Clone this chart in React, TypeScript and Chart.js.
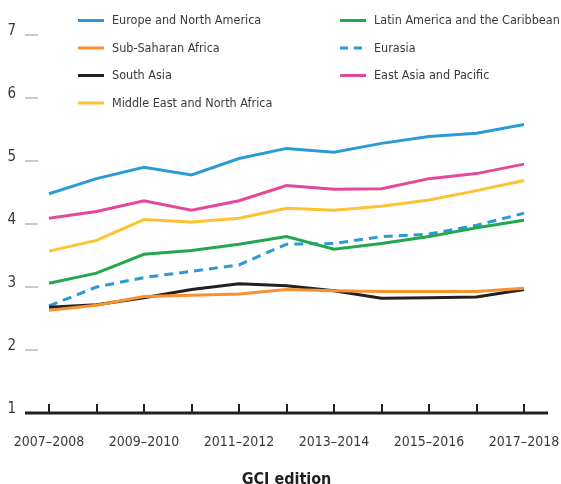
import React, { useEffect, useRef } from "react";
import { Chart, registerables } from "chart.js";

Chart.register(...registerables);

const editions = [
  "2007–2008", "2008–2009", "2009–2010", "2010–2011", "2011–2012", "2012–2013",
  "2013–2014", "2014–2015", "2015–2016", "2016–2017", "2017–2018",
];
const europeNorthAmerica = [4.48, 4.72, 4.9, 4.78, 5.04, 5.2, 5.14, 5.28, 5.39, 5.44, 5.58];
const subSaharanAfrica = [2.63, 2.71, 2.85, 2.87, 2.89, 2.96, 2.94, 2.93, 2.93, 2.93, 2.98];
const southAsia = [2.68, 2.72, 2.83, 2.96, 3.05, 3.02, 2.94, 2.82, 2.83, 2.84, 2.96];
const middleEastNorthAfrica = [3.57, 3.74, 4.07, 4.03, 4.09, 4.25, 4.22, 4.28, 4.38, 4.53, 4.69];
const latinAmericaCaribbean = [3.06, 3.22, 3.52, 3.58, 3.68, 3.8, 3.6, 3.69, 3.8, 3.94, 4.06];
const eurasia = [2.7, 3.0, 3.15, 3.25, 3.35, 3.68, 3.69, 3.8, 3.84, 3.98, 4.17];
const eastAsiaPacific = [4.09, 4.2, 4.37, 4.22, 4.37, 4.61, 4.55, 4.56, 4.72, 4.8, 4.95];
const yMin = 1;
const yMax = 7;
const xTitle = "GCI edition";

const FONT = "'DejaVu Sans Condensed', 'Liberation Sans Narrow', sans-serif";
const TEXT = "#3a3a3a";

const legendPlugin = {
  id: "columnLegend",
  afterDraw(chart: any) {
    const ctx = chart.ctx;
    chart.data.datasets.forEach((ds: any, i: number) => {
      const col = i < 4 ? 0 : 1;
      const row = i < 4 ? i : i - 4;
      const x = col === 0 ? 78 : 340;
      const y = 20.5 + row * 27.5;
      ctx.save();
      ctx.strokeStyle = ds.borderColor;
      ctx.lineWidth = 3;
      ctx.setLineDash(ds.borderDash ? [8, 6] : []);
      ctx.beginPath();
      ctx.moveTo(x, y);
      ctx.lineTo(x + 26, y);
      ctx.stroke();
      ctx.setLineDash([]);
      ctx.fillStyle = TEXT;
      ctx.font = "12.5px " + FONT;
      ctx.textBaseline = "middle";
      ctx.textAlign = "left";
      ctx.fillText(ds.label, x + 34, y + 0.5);
      ctx.restore();
    });
  },
};

const axisPlugin = {
  id: "customAxes",
  afterDraw(chart: any) {
    const ctx = chart.ctx;
    const xs = chart.scales.x;
    const ys = chart.scales.y;
    ctx.save();
    ctx.strokeStyle = "#c9c9c9";
    ctx.lineWidth = 2;
    ys.ticks.forEach((t: any) => {
      if (t.value === yMin) return;
      const y = Math.round(ys.getPixelForValue(t.value));
      ctx.beginPath();
      ctx.moveTo(25, y);
      ctx.lineTo(38, y);
      ctx.stroke();
    });
    const base = ys.getPixelForValue(yMin);
    ctx.strokeStyle = "#231f20";
    ctx.lineWidth = 3;
    ctx.beginPath();
    ctx.moveTo(25, base);
    ctx.lineTo(548, base);
    ctx.stroke();
    ctx.lineWidth = 2;
    editions.forEach((_, i) => {
      const x = Math.round(xs.getPixelForValue(i));
      ctx.beginPath();
      ctx.moveTo(x, base - 9);
      ctx.lineTo(x, base);
      ctx.stroke();
    });
    ctx.restore();
  },
};

export default function App() {
  const ref = useRef<HTMLCanvasElement | null>(null);
  useEffect(() => {
    document.body.style.margin = "0";
    const canvas = ref.current;
    if (!canvas) return;
    const mk = (label: string, data: number[], color: string, dashed = false) => ({
      label,
      data,
      borderColor: color,
      backgroundColor: color,
      borderWidth: 3,
      pointRadius: 0,
      tension: 0,
      fill: false,
      borderDash: dashed ? [9, 6] : undefined,
      borderCapStyle: "butt",
    });
    const chart = new Chart(canvas, {
      type: "line",
      data: {
        labels: editions,
        datasets: [
          mk("Europe and North America", europeNorthAmerica, "#2b9ad6"),
          mk("Sub-Saharan Africa", subSaharanAfrica, "#f7922f"),
          mk("South Asia", southAsia, "#231f20"),
          mk("Middle East and North Africa", middleEastNorthAfrica, "#fdc231"),
          mk("Latin America and the Caribbean", latinAmericaCaribbean, "#21a84f"),
          mk("Eurasia", eurasia, "#2b9ad6", true),
          mk("East Asia and Pacific", eastAsiaPacific, "#e5479b"),
        ] as any,
      },
      options: {
        animation: false,
        responsive: true,
        maintainAspectRatio: false,
        layout: { padding: { top: 35, right: 37, left: 0, bottom: 0 } },
        plugins: { legend: { display: false }, tooltip: { enabled: false } },
        scales: {
          x: {
            offset: false,
            grid: { display: false, drawTicks: false },
            border: { display: false },
            ticks: {
              autoSkip: false,
              maxRotation: 0,
              padding: 21,
              color: TEXT,
              font: { family: FONT, size: 14 },
              callback: (_v: any, i: number) => (i % 2 === 0 ? editions[i] : ""),
            },
            title: {
              display: true,
              text: xTitle,
              color: "#231f20",
              font: { family: FONT, size: 16, weight: "bold" },
              padding: { top: 0, bottom: -5 },
            },
            afterFit: (s: any) => {
              s.height = 71;
              s.paddingLeft = 0;
              s.paddingRight = 0;
            },
          },
          y: {
            min: yMin,
            max: yMax,
            grid: { display: false, drawTicks: false },
            border: { display: false },
            ticks: {
              stepSize: 1,
              padding: 33,
              labelOffset: -4,
              color: TEXT,
              font: { family: FONT, size: 15 },
            },
            afterFit: (s: any) => {
              s.width = 49;
              s.paddingTop = 0;
              s.paddingBottom = 0;
            },
          },
        },
      },
      plugins: [legendPlugin, axisPlugin],
    });
    return () => chart.destroy();
  }, []);
  return (
    <div style={{ width: 561, height: 484, position: "relative" }}>
      <canvas ref={ref} />
    </div>
  );
}
